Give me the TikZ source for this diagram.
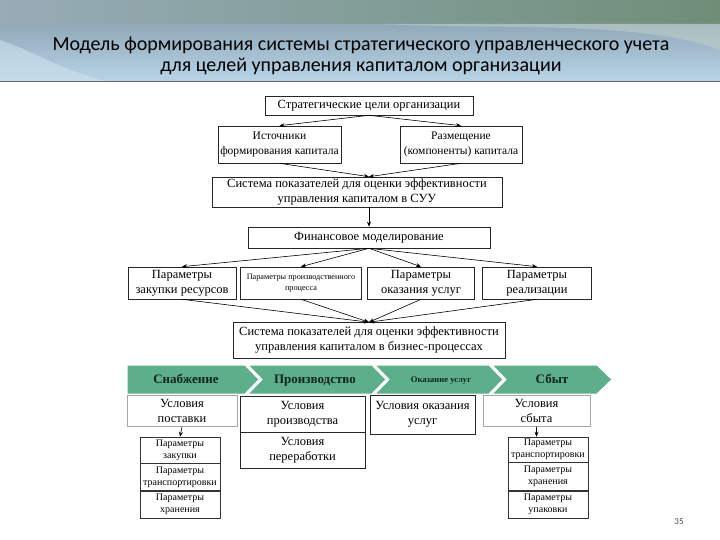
\documentclass[tikz,border=0pt]{standalone}
\usepackage{fontspec}
\setmainfont{Liberation Serif}
\newfontfamily\titlefont{Carlito}
\usetikzlibrary{arrows.meta,shadows}
\definecolor{headblue}{HTML}{B9D4E7}
\definecolor{headtop}{HTML}{7E97A6}
\definecolor{headgreen}{HTML}{6E8E78}
\definecolor{chevgreen}{HTML}{5DAE8B}
\definecolor{chevtext}{HTML}{10261B}
\tikzset{
  box/.style={draw=black!85,line width=0.6pt,fill=white,inner sep=0pt,align=center,
    font=\fontsize{12.5}{15}\selectfont},
  shadowbox/.style={box,drop shadow={shadow xshift=1.2pt,shadow yshift=-1.2pt,fill=black!45}},
  softbox/.style={box,draw=black!35},
  cellbox/.style={box,draw=black!80,line width=0.5pt,font=\fontsize{10}{12}\selectfont},
  chev/.style={fill=chevgreen,draw=white,line width=1pt},
  chevlabel/.style={font=\bfseries\fontsize{13}{14}\selectfont,text=chevtext,
    text height=9pt,text depth=2.5pt},
  arr/.style={-{Stealth[length=5pt,width=4pt]},line width=0.6pt}
}
\begin{document}
\begin{tikzpicture}[x=1pt,y=-1pt]
\useasboundingbox (0,0) rectangle (720,540);
\fill[white] (0,0) rectangle (720,540);
\shade[top color=headtop,bottom color=headblue] (0,0) rectangle (720,82);
\shade[left color=headtop!80,right color=headgreen] (0,0) rectangle (720,24);
\fill[headblue!70!white,opacity=0.6] (0,82) -- (0,40) .. controls (30,50) and (60,70) .. (110,82) -- cycle;
\fill[headgreen!40!white,opacity=0.5] (380,24) .. controls (500,30) and (640,20) .. (720,50) -- (720,24) -- cycle;
\draw[black!60,line width=1pt] (0,82) -- (720,82);
\node[font=\titlefont\fontsize{20}{21}\selectfont,align=center] (title) at (361,56)
  {Модель формирования системы стратегического управленческого учета\\
   для целей управления капиталом организации};

\node[box,minimum width=208pt,minimum height=19pt] (goals) at (369,105.5) {Стратегические цели организации};
\node[box,minimum width=123pt,minimum height=37pt,font=\fontsize{11.5}{15}\selectfont] (sources) at (279.5,144.5) {Источники\\формирования капитала};
\node[box,minimum width=122pt,minimum height=37pt,font=\fontsize{11.5}{15}\selectfont] (placement) at (461,144.5) {Размещение\\(компоненты) капитала};
\node[box,minimum width=290pt,minimum height=30pt] (suu) at (357,192) {Система показателей для оценки эффективности\\управления капиталом в СУУ};
\node[box,minimum width=242pt,minimum height=21pt] (finmod) at (369,237.5) {Финансовое моделирование};

\node[box,minimum width=108pt,minimum height=32pt] (pzak) at (182,283) {Параметры\\закупки ресурсов};
\node[box,minimum width=121pt,minimum height=32pt,font=\fontsize{8.2}{11}\selectfont] (pproc) at (301,283) {Параметры производственного\\процесса};
\node[box,minimum width=107pt,minimum height=32pt] (pusl) at (421,283) {Параметры\\оказания услуг};
\node[box,minimum width=109pt,minimum height=32pt] (preal) at (537,283) {Параметры\\реализации};

\node[box,minimum width=272pt,minimum height=36pt] (bizp) at (369,340.5) {Система показателей для оценки эффективности\\управления капиталом в бизнес-процессах};

\draw[arr] (goals.south) -- (sources.north);
\draw[arr] (goals.south) -- (placement.north);
\draw[arr] (sources.south) -- (suu.north -| goals.south);
\draw[arr] (placement.south) -- (suu.north -| goals.south);
\draw[arr] (suu.south -| goals.south) -- (finmod.north);
\draw[arr] (finmod.south) -- (pzak.north);
\draw[arr] (finmod.south) -- (pproc.north);
\draw[arr] (finmod.south) -- (pusl.north);
\draw[arr] (finmod.south) -- (preal.north);
\draw[arr] (pzak.south) -- (bizp.north);
\draw[arr] (pproc.south) -- (bizp.north);
\draw[arr] (pusl.south) -- (bizp.north);
\draw[arr] (preal.south) -- (bizp.north);

\draw[chev] (127,365) -- (245,365) -- (259,379.5) -- (245,394) -- (127,394) -- cycle;
\draw[chev] (248,365) -- (372,365) -- (386,379.5) -- (372,394) -- (248,394) -- (262,379.5) -- cycle;
\draw[chev] (375,365) -- (489,365) -- (503,379.5) -- (489,394) -- (375,394) -- (389,379.5) -- cycle;
\draw[chev] (492,365) -- (597,365) -- (612,379.5) -- (597,394) -- (492,394) -- (506,379.5) -- cycle;
\node[chevlabel] (supply) at (186,380) {Снабжение};
\node[chevlabel] (prod) at (315,380) {Производство};
\node[chevlabel,font=\bfseries\fontsize{8.6}{10}\selectfont,text height=6pt,text depth=2pt] (serv) at (441,380) {Оказание услуг};
\node[chevlabel] (sales) at (552,380) {Сбыт};

\node[softbox,minimum width=110pt,minimum height=31pt] (cpost) at (182,411) {Условия\\поставки};
\node[shadowbox,minimum width=125pt,minimum height=36pt] (cprod) at (302.5,414) {Условия\\производства};
\node[shadowbox,minimum width=125pt,minimum height=36pt] (cpere) at (302.5,450) {Условия\\переработки};
\node[shadowbox,minimum width=105pt,minimum height=39pt] (cusl) at (422.5,414.5) {Условия оказания\\услуг};
\node[softbox,minimum width=107pt,minimum height=31pt] (csbyt) at (536.5,411) {Условия\\сбыта};

\node[cellbox,minimum width=80pt,minimum height=26pt] (pz1) at (180,450) {Параметры\\закупки};
\node[cellbox,minimum width=80pt,minimum height=27pt,anchor=north] (pz2) at (pz1.south) {Параметры\\транспортировки};
\node[cellbox,minimum width=80pt,minimum height=27pt,anchor=north] (pz3) at (pz2.south) {Параметры\\хранения};
\node[cellbox,minimum width=80pt,minimum height=25pt] (ps1) at (548,449.5) {Параметры\\транспортировки};
\node[cellbox,minimum width=80pt,minimum height=28pt,anchor=north] (ps2) at (ps1.south) {Параметры\\хранения};
\node[cellbox,minimum width=80pt,minimum height=27pt,anchor=north] (ps3) at (ps2.south) {Параметры\\упаковки};

\draw[arr] (cpost.south) -- (pz1.north);
\draw[arr] (csbyt.south) -- (csbyt.south |- ps1.north);

\node[font=\titlefont\fontsize{9}{10}\selectfont,text=black!70] (page) at (679,522) {35};
\end{tikzpicture}
\end{document}
